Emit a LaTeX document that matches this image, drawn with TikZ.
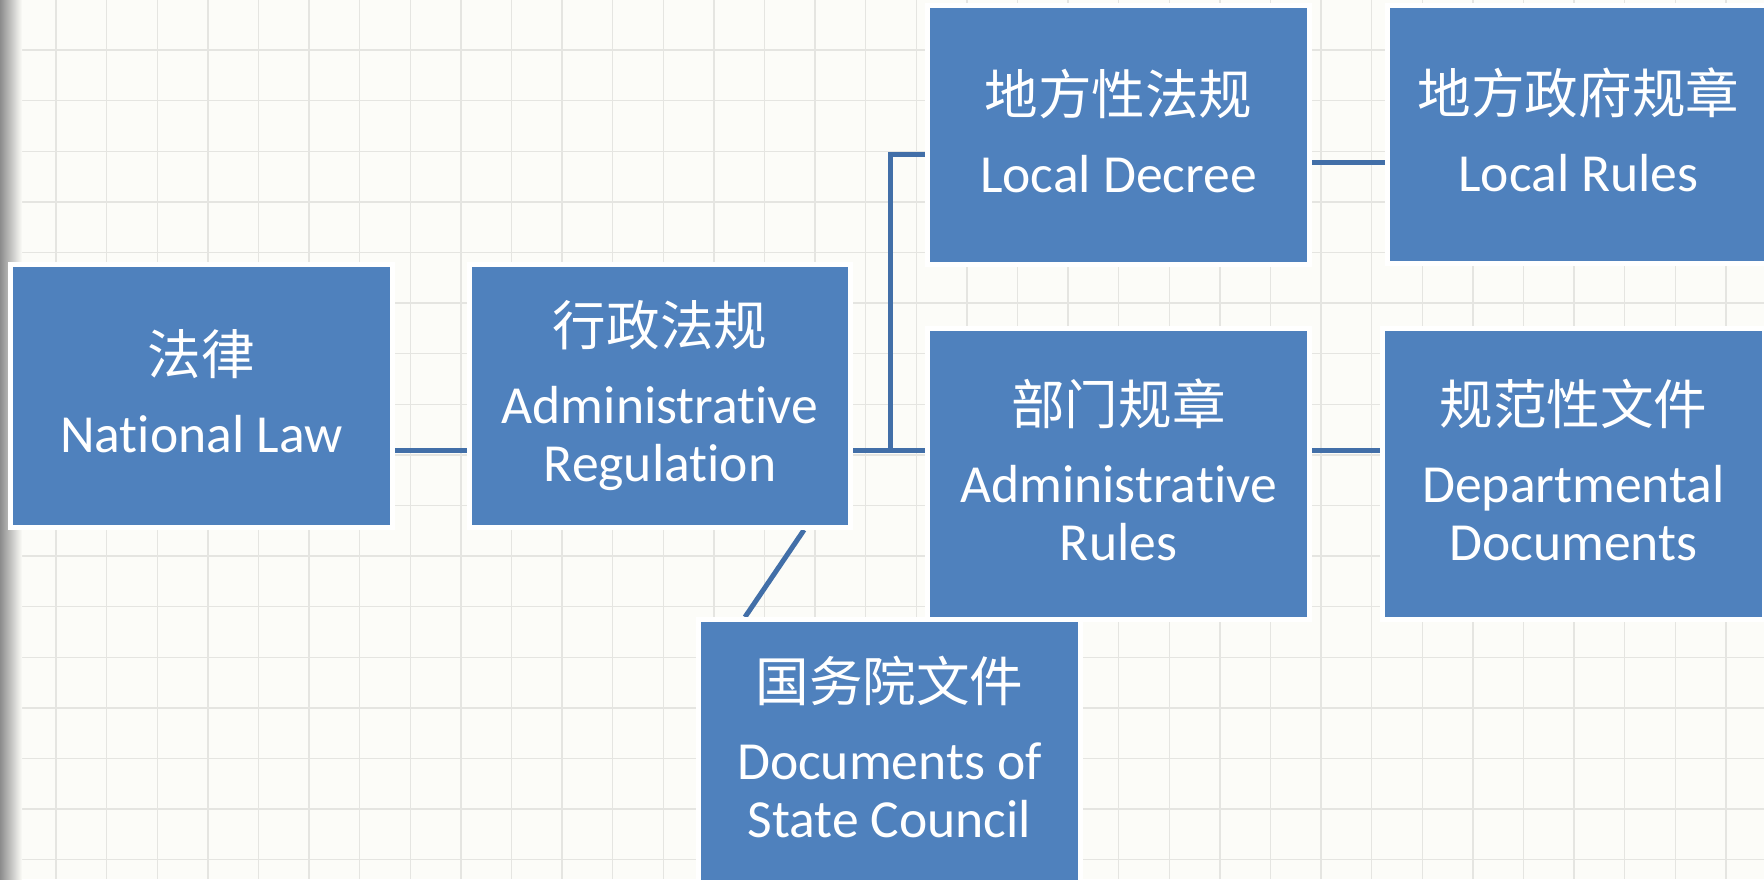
\documentclass[tikz,border=0pt]{standalone}
\usepackage{fontspec}
\setmainfont[Ligatures=NoCommon]{Carlito}
\newfontfamily\cjk{Noto Sans CJK SC}
\newcommand{\hanzi}[1]{{\cjk\fontsize{30.5}{33}\selectfont #1}}

\definecolor{boxblue}{RGB}{79,129,189}
\definecolor{linkblue}{RGB}{66,111,168}
\definecolor{paper}{RGB}{252,252,248}
\definecolor{gridgray}{RGB}{229,229,225}

\pgfdeclarelayer{paperlayer}
\pgfdeclarelayer{linklayer}
\pgfsetlayers{paperlayer,linklayer,main}

\tikzset{
  lawbox/.style={draw=white, line width=0.1cm, fill=boxblue, text=white,
    align=center, inner sep=0pt, minimum width=7.64cm, minimum height=5.26cm,
    font=\fontsize{30.5}{33}\selectfont},
  link/.style={draw=linkblue, line width=0.1cm},
}

\begin{document}
\begin{tikzpicture}[x=0.02cm, y=-0.02cm]
  \useasboundingbox (0,0) rectangle (1764,879);

  % squared paper
  \begin{pgfonlayer}{paperlayer}
    \fill[paper] (0,0) rectangle (1764,879);
    \foreach \k in {-1,...,34}
      \draw[gridgray, line width=0.028cm] (56+50.6*\k,0) -- (56+50.6*\k,879);
    \foreach \k in {-1,...,16}
      \draw[gridgray, line width=0.028cm] (0,50+50.6*\k) -- (1764,50+50.6*\k);
    \shade[left color=black!45, right color=paper] (0,0) rectangle (22,879);
  \end{pgfonlayer}

  \node[lawbox] (Law) at (201.5,396)
    {\hanzi{法律}\\[11.4pt]National Law\vphantom{g}};
  \node[lawbox] (AdminReg) at (660,396)
    {\hanzi{行政法规}\\[11.4pt]Administrative\\Regulation};
  \node[lawbox, minimum height=5.18cm] (Decree) at (1118.5,135)
    {\hanzi{地方性法规}\\[11.4pt]Local Decree\vphantom{g}};
  \node[lawbox, minimum height=5.18cm] (LocalRules) at (1578.5,134.5)
    {\hanzi{地方政府规章}\\[11.4pt]Local Rules\vphantom{g}};
  \node[lawbox, minimum height=5.82cm] (AdminRules) at (1118.5,474)
    {\hanzi{部门规章}\\[11.4pt]Administrative\\Rules\vphantom{g}};
  \node[lawbox, minimum height=5.82cm] (DeptDocs) at (1573.5,474)
    {\hanzi{规范性文件}\\[11.4pt]Departmental\\Documents\vphantom{g}};
  \node[lawbox] (StateCouncil) at (889.5,751)
    {\hanzi{国务院文件}\\[11.4pt]Documents of\\State Council\vphantom{g}};

  \coordinate (fork) at (890,450);
  \coordinate (upper) at (890,154);
  \coordinate (toprow) at (1350,162);
  \coordinate (diagtop) at (804,0);
  \coordinate (diagbot) at (745,0);

  \begin{pgfonlayer}{linklayer}
    \begin{scope}[link]
      \draw (Law.east |- fork) -- (AdminReg.west |- fork);
      \draw (AdminReg.east |- fork) -- (AdminRules.west |- fork);
      \draw (fork) -- (upper) -- (Decree.west |- upper);
      \draw (Decree.east |- toprow) -- (LocalRules.west |- toprow);
      \draw (AdminRules.east |- fork) -- (DeptDocs.west |- fork);
      \draw (AdminReg.south -| diagtop) -- (StateCouncil.north -| diagbot);
    \end{scope}
  \end{pgfonlayer}
\end{tikzpicture}
\end{document}
